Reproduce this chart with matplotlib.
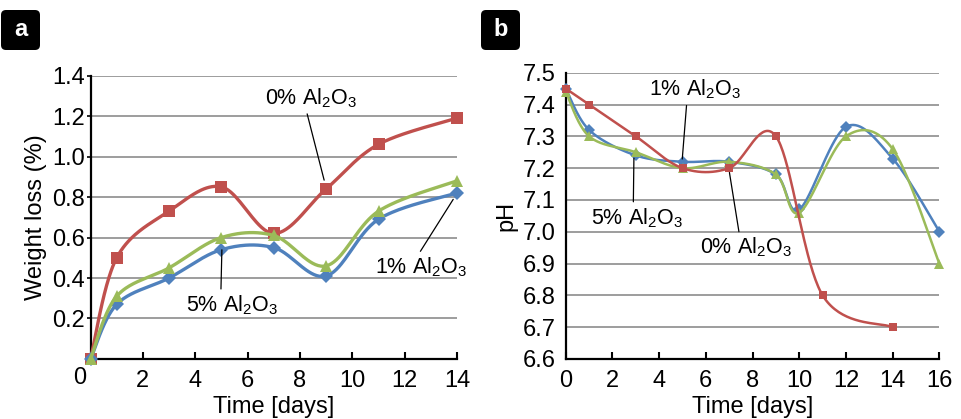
import numpy as np
import matplotlib
matplotlib.use("Agg")
import matplotlib.pyplot as plt
from matplotlib.patches import FancyBboxPatch
from matplotlib.transforms import IdentityTransform

plt.rcParams['font.family'] = ['Liberation Sans', 'DejaVu Sans']
plt.rcParams['mathtext.fontset'] = 'custom'
plt.rcParams['mathtext.rm'] = 'Liberation Sans'
plt.rcParams['mathtext.it'] = 'Liberation Sans'
plt.rcParams['mathtext.default'] = 'regular'

# ---------------- data ----------------
days_a = [0, 1, 3, 5, 7, 9, 11, 14]
wl_0 = [0.0, 0.50, 0.73, 0.85, 0.62, 0.84, 1.06, 1.19]
wl_1 = [0.0, 0.27, 0.40, 0.54, 0.55, 0.41, 0.69, 0.82]
wl_5 = [0.0, 0.31, 0.45, 0.60, 0.61, 0.46, 0.73, 0.88]

days_b0 = [0, 1, 3, 5, 7, 9, 11, 14]
ph_0 = [7.45, 7.40, 7.30, 7.20, 7.20, 7.30, 6.80, 6.70]
days_b = [0, 1, 3, 5, 7, 9, 10, 12, 14, 16]
ph_1 = [7.45, 7.32, 7.24, 7.22, 7.22, 7.18, 7.07, 7.33, 7.23, 7.00]
ph_5 = [7.44, 7.30, 7.25, 7.20, 7.22, 7.18, 7.06, 7.30, 7.26, 6.90]

xticks_a = [0, 2, 4, 6, 8, 10, 12, 14]
yticks_a = [0.2, 0.4, 0.6, 0.8, 1.0, 1.2, 1.4]
xticks_b = [0, 2, 4, 6, 8, 10, 12, 14, 16]
yticks_b = [6.6, 6.7, 6.8, 6.9, 7.0, 7.1, 7.2, 7.3, 7.4, 7.5]

lab0 = '0% Al$_2$O$_3$'
lab1 = '1% Al$_2$O$_3$'
lab5 = '5% Al$_2$O$_3$'

RED = '#C0504D'
BLUE = '#4F81BD'
GREEN = '#9BBB59'


def smooth(x, y, n=40):
    """Excel-style smoothed line (Catmull-Rom Bezier)."""
    P = np.column_stack([np.asarray(x, float), np.asarray(y, float)])
    P = np.vstack([P[0], P, P[-1]])
    out = []
    t = np.linspace(0, 1, n)[:, None]
    for i in range(1, len(P) - 2):
        p0, p1, p2, p3 = P[i - 1], P[i], P[i + 1], P[i + 2]
        c1 = p1 + (p2 - p0) / 6.0
        c2 = p2 - (p3 - p1) / 6.0
        seg = ((1 - t) ** 3) * p1 + 3 * ((1 - t) ** 2) * t * c1 + 3 * (1 - t) * t ** 2 * c2 + t ** 3 * p2
        out.append(seg if i == 1 else seg[1:])
    out = np.vstack(out)
    return out[:, 0], out[:, 1]


def series(ax, x, y, color, marker, ms, lw, z):
    sx, sy = smooth(x, y)
    ax.plot(sx, sy, color=color, lw=lw, zorder=z, clip_on=False, solid_capstyle='round')
    ax.plot(x, y, linestyle='none', marker=marker, color=color, ms=ms,
            markeredgewidth=0, zorder=z + 0.5, clip_on=False)


def style(ax, xt, yt, xl, yl, ylab, ypad, ylen, xlabels=None):
    ax.set_xlim(*xl)
    ax.set_ylim(*yl)
    ax.set_xticks(xt)
    if xlabels is not None:
        ax.set_xticklabels(xlabels)
    ax.set_yticks(yt)
    ax.set_yticklabels(['%.1f' % v for v in yt])
    ax.spines['top'].set_visible(False)
    ax.spines['right'].set_visible(False)
    for s in ('left', 'bottom'):
        ax.spines[s].set_linewidth(1.6)
        ax.spines[s].set_color('black')
    ax.yaxis.grid(True, color='#8c8c8c', lw=1.2)
    ax.set_axisbelow(True)
    ax.tick_params(axis='x', direction='in', length=5, width=1.5, pad=8, labelsize=17)
    ax.tick_params(axis='y', direction='out', length=ylen, width=1.2, pad=ypad, labelsize=17)
    ax.set_xlabel('Time [days]', fontsize=17, labelpad=2.5)
    ax.set_ylabel(ylab, fontsize=17, labelpad=4)


fig = plt.figure(figsize=(9.62, 4.19), dpi=100)
ax1 = fig.add_axes([0.0941, 0.1432, 0.3810, 0.6766])
ax2 = fig.add_axes([0.5881, 0.1432, 0.3884, 0.6833])

# panel a
xlabels_a = [''] + [str(v) for v in xticks_a[1:]]
style(ax1, xticks_a, yticks_a, (0, 14), (0, 1.4), 'Weight loss (%)', 1, 3, xlabels_a)
# the "0" label of panel a sits a little left of the axis origin
ax1.annotate(str(xticks_a[0]), xy=(xticks_a[0], 0), xycoords=('data', 'axes fraction'),
             xytext=(-7.5, -13.6), textcoords='offset points', fontsize=17,
             ha='center', va='center', annotation_clip=False)
series(ax1, days_a, wl_0, RED, 's', 8, 2.4, 3)
series(ax1, days_a, wl_1, BLUE, 'D', 7, 2.4, 4)
series(ax1, days_a, wl_5, GREEN, '^', 9, 2.4, 5)

ann = dict(fontsize=15.5, ha='center', va='center', zorder=10)
ax1.annotate(lab0, xy=(8.95, 0.87), xytext=(8.41, 1.289),
             arrowprops=dict(arrowstyle='-', color='black', lw=0.9, shrinkA=1, shrinkB=2,
                             relpos=(0.45, 0.0)), **ann)
ax1.annotate(lab1, xy=(13.91, 0.80), xytext=(12.61, 0.454),
             arrowprops=dict(arrowstyle='-', color='black', lw=0.9, shrinkA=1, shrinkB=2,
                             relpos=(0.47, 1.0)), **ann)
ax1.annotate(lab5, xy=(5.02, 0.553), xytext=(5.40, 0.267),
             arrowprops=dict(arrowstyle='-', color='black', lw=0.9, shrinkA=1, shrinkB=2,
                             relpos=(0.38, 1.0)), **ann)

# panel b
style(ax2, xticks_b, yticks_b, (0, 16), (6.6, 7.5), 'pH', 7, 0)
series(ax2, days_b, ph_1, BLUE, 'D', 6, 1.8, 3)
series(ax2, days_b, ph_5, GREEN, '^', 7, 1.8, 4)
series(ax2, days_b0, ph_0, RED, 's', 6, 1.8, 5)

ax2.annotate(lab1, xy=(4.98, 7.22), xytext=(5.54, 7.447),
             arrowprops=dict(arrowstyle='-', color='black', lw=0.9, shrinkA=1, shrinkB=2,
                             relpos=(0.41, 0.0)), **ann)
ax2.annotate(lab5, xy=(2.92, 7.24), xytext=(3.05, 7.044),
             arrowprops=dict(arrowstyle='-', color='black', lw=0.9, shrinkA=1, shrinkB=2,
                             relpos=(0.46, 1.0)), **ann)
ax2.annotate(lab0, xy=(6.99, 7.195), xytext=(7.72, 6.95),
             arrowprops=dict(arrowstyle='-', color='black', lw=0.9, shrinkA=1, shrinkB=2,
                             relpos=(0.43, 1.0)), **ann)

# panel labels
for x0, lab in ((1, 'a'), (481, 'b')):
    box = FancyBboxPatch((x0 + 4, 369 + 4), 39 - 8, 40 - 8,
                         boxstyle='round,pad=4,rounding_size=5',
                         transform=IdentityTransform(), facecolor='black',
                         edgecolor='none')
    fig.patches.append(box)
    fig.text((x0 + 19.5) / 962, (389) / 419, lab, color='white', fontsize=17,
             fontweight='bold', ha='center', va='center')

fig.savefig('out.png', dpi=100)
